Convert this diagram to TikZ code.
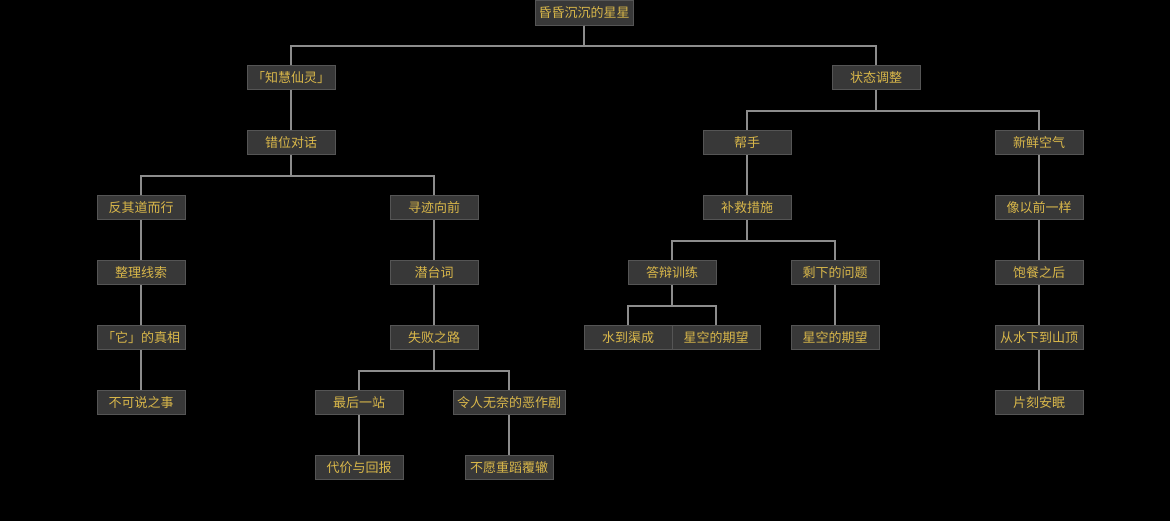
\documentclass[tikz,border=0pt]{standalone}
\usepackage{fontspec}
\newfontfamily\cjk{Noto Sans CJK SC}
\definecolor{boxfill}{HTML}{383838}
\definecolor{boxline}{HTML}{555555}
\definecolor{txt}{HTML}{D9B74A}
\definecolor{edge}{HTML}{8C8C8C}
\tikzset{
  nd/.style={draw=boxline, fill=boxfill, line width=1pt, minimum width=88pt, minimum height=24.5pt, inner sep=0pt, text=txt, font=\cjk\fontsize{13}{15}\selectfont},
  ed/.style={draw=edge, line width=2pt},
}
\begin{document}
\begin{tikzpicture}[x=1pt,y=-1pt]
\fill[black] (0,0) rectangle (1170,521);
\useasboundingbox (0,0) rectangle (1170,521);
\node[nd, minimum width=98pt] (root) at (584,13) {昏昏沉沉的星星};
\node[nd] (a) at (291,77.5) {「知慧仙灵」};
\node[nd] (b) at (876,77.5) {状态调整};
\node[nd] (a1) at (291,142.5) {错位对话};
\node[nd] (b1) at (747,142.5) {帮手};
\node[nd] (b2) at (1039,142.5) {新鲜空气};
\node[nd] (c1) at (141,207.5) {反其道而行};
\node[nd] (c2) at (434,207.5) {寻迹向前};
\node[nd] (d1) at (747,207.5) {补救措施};
\node[nd] (e1) at (1039,207.5) {像以前一样};
\node[nd] (c11) at (141,272.5) {整理线索};
\node[nd] (c21) at (434,272.5) {潜台词};
\node[nd] (d11) at (672,272.5) {答辩训练};
\node[nd] (d12) at (835,272.5) {剩下的问题};
\node[nd] (e11) at (1039,272.5) {饱餐之后};
\node[nd] (c111) at (141,337.5) {「它」的真相};
\node[nd] (c211) at (434,337.5) {失败之路};
\node[nd] (d111) at (628,337.5) {水到渠成};
\node[nd] (d112) at (716,337.5) {星空的期望};
\node[nd] (d121) at (835,337.5) {星空的期望};
\node[nd] (e111) at (1039,337.5) {从水下到山顶};
\node[nd] (c1111) at (141,402.5) {不可说之事};
\node[nd] (f1) at (359,402.5) {最后一站};
\node[nd, minimum width=112pt] (f2) at (509,402.5) {令人无奈的恶作剧};
\node[nd] (e1111) at (1039,402.5) {片刻安眠};
\node[nd] (f11) at (359,467.5) {代价与回报};
\node[nd] (f21) at (509,467.5) {不愿重蹈覆辙};
\foreach \p/\c in {root/a,root/b,a1/c1,a1/c2,b/b1,b/b2,d1/d11,d1/d12,d11/d111,d11/d112,c211/f1,c211/f2}
  \draw[ed] (\p.south) -- ++(0,20.5) -| (\c.north);
\foreach \p/\c in {a/a1,b1/d1,b2/e1,c1/c11,c11/c111,c111/c1111,c2/c21,c21/c211,d12/d121,e1/e11,e11/e111,e111/e1111,f1/f11,f2/f21}
  \draw[ed] (\p.south) -- (\c.north);
\end{tikzpicture}
\end{document}
